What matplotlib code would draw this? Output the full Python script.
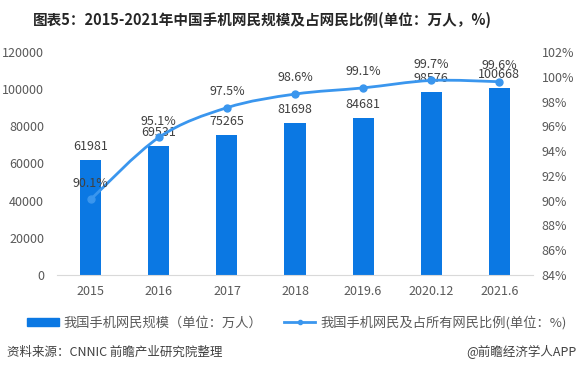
import numpy as np
import matplotlib.pyplot as plt
from matplotlib.path import Path
from matplotlib.patches import PathPatch, Patch
from matplotlib.lines import Line2D

plt.rcParams['font.family'] = ['Noto Sans CJK SC', 'DejaVu Sans']

years = ['2015', '2016', '2017', '2018', '2019.6', '2020.12', '2021.6']
users = [61981, 69531, 75265, 81698, 84681, 98576, 100668]
share = [90.1, 95.1, 97.5, 98.6, 99.1, 99.7, 99.6]

bar_color = '#0B78E3'
line_color = '#3A96EE'
tick_color = '#595959'

fig = plt.figure(figsize=(5.79, 3.74), dpi=100)
ax = fig.add_axes([0.098, 0.265, 0.823, 0.596])
ax2 = ax.twinx()

x = np.arange(len(years))
ax.bar(x, users, width=0.31, color=bar_color, zorder=2)
for xi, v in zip(x, users):
    ax.annotate(str(v), (xi, v), xytext=(0, 5), textcoords='offset points',
                ha='center', va='bottom', fontsize=9, color='#404040')

ax.set_ylim(0, 120000)
ax.set_yticks(np.arange(0, 120001, 20000))
ax.set_xlim(-0.5, len(years) - 0.5)
ax.set_xticks(x)
ax.set_xticklabels(years)

# smoothed line (Catmull-Rom style bezier through the points)
pts = np.column_stack([x, share]).astype(float)
verts = [tuple(pts[0])]
codes = [Path.MOVETO]
for i in range(len(pts) - 1):
    p0 = pts[i - 1] if i > 0 else pts[i]
    p1 = pts[i]
    p2 = pts[i + 1]
    p3 = pts[i + 2] if i + 2 < len(pts) else pts[i + 1]
    c1 = p1 + (p2 - p0) / 6.0
    c2 = p2 - (p3 - p1) / 6.0
    verts += [tuple(c1), tuple(c2), tuple(p2)]
    codes += [Path.CURVE4] * 3
ax2.add_patch(PathPatch(Path(verts, codes), fill=False, edgecolor=line_color,
                        lw=2, zorder=3))
ax2.plot(x, share, 'o', color=line_color, ms=5, zorder=4)
for xi, v in zip(x, share):
    ax2.annotate(f'{v}%', (xi, v), xytext=(0, 7), textcoords='offset points',
                 ha='center', va='bottom', fontsize=9, color='#404040')

ax2.set_ylim(84, 102)
ax2.set_yticks(np.arange(84, 102.1, 2))
ax2.set_yticklabels([f'{int(t)}%' for t in np.arange(84, 102.1, 2)])

for a in (ax, ax2):
    for s in a.spines.values():
        s.set_visible(False)
    a.tick_params(length=0, labelsize=9, colors=tick_color)
ax.spines['bottom'].set_visible(True)
ax.spines['bottom'].set_color('#d9d9d9')
ax.tick_params(axis='y', pad=9)
ax.tick_params(axis='x', pad=7)
ax2.tick_params(axis='y', pad=6)
ax2.set_zorder(ax.get_zorder() + 1)
ax2.patch.set_visible(False)

fig.text(0.453, 0.946, '图表5：2015-2021年中国手机网民规模及占网民比例(单位：万人，%)',
         ha='center', va='center', fontsize=10.5, fontweight='bold', color='#262626')

handles = [Patch(color=bar_color),
           Line2D([0], [0], color=line_color, lw=2, marker='o', ms=3)]
labels = ['我国手机网民规模（单位：万人）', '我国手机网民及占所有网民比例(单位：%)']
fig.legend(handles, labels, loc='center', bbox_to_anchor=(0.513, 0.138), ncol=2,
           frameon=False, fontsize=9.5, handlelength=2.4, handleheight=0.6,
           columnspacing=1.6, handletextpad=0.4, labelcolor=tick_color)

fig.text(0.012, 0.058, '资料来源：CNNIC 前瞻产业研究院整理', ha='left', va='center',
         fontsize=9, color='#404040')
fig.text(0.995, 0.058, '@前瞻经济学人APP', ha='right', va='center',
         fontsize=9, color='#404040')

fig.savefig('out.png', dpi=100)
